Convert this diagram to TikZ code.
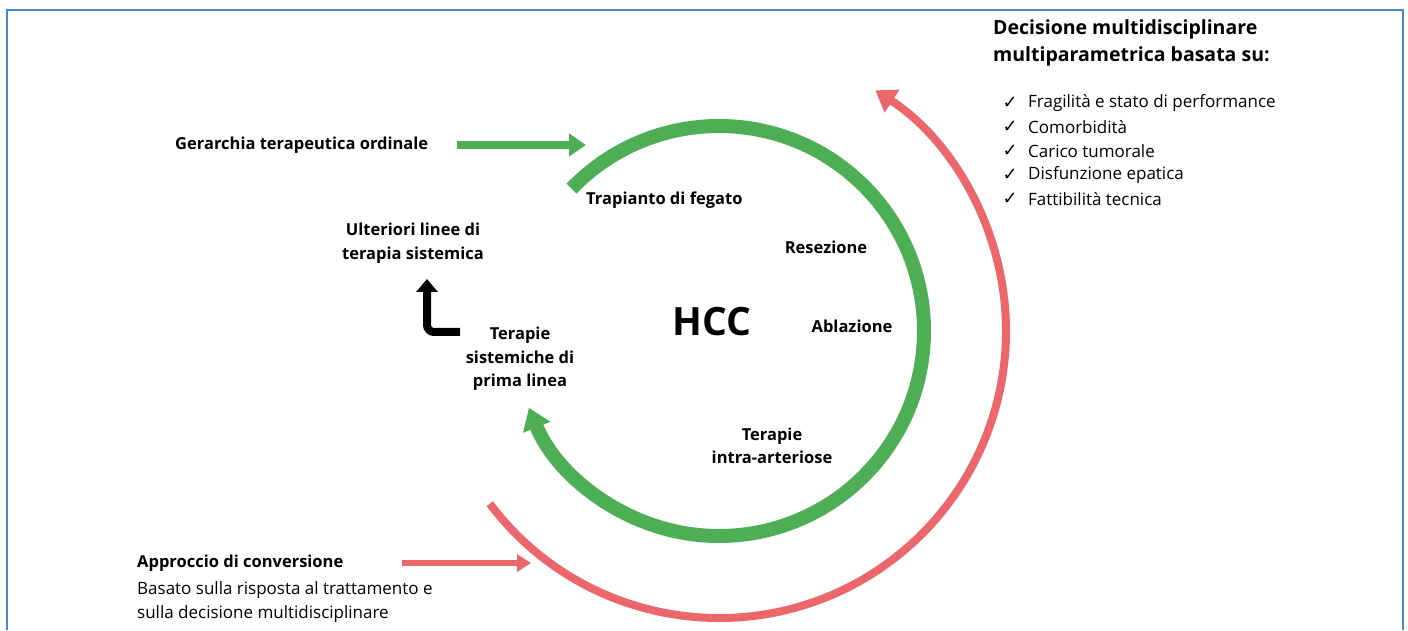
\documentclass[tikz,border=0pt]{standalone}
\usepackage{fontspec}
\setmainfont{Open Sans}
\newfontfamily\symfont{DejaVu Sans}
\usepackage{tikz}
\usepackage{xcolor}
\usetikzlibrary{arrows.meta,calc,positioning}
\definecolor{FrameBlue}{HTML}{4A86C8}
\definecolor{CycleGreen}{HTML}{4EAE55}
\definecolor{ConvRed}{HTML}{EB676C}
\newcommand{\chk}{{\symfont\char"2713}}

\begin{document}
\begin{tikzpicture}[
      x=1pt,y=1pt,
      font=\fontsize{16}{18}\selectfont,
      lbl/.style={font=\fontsize{16.5}{23.5}\selectfont\bfseries,align=center,inner sep=0pt},
      txt/.style={font=\fontsize{17}{24}\selectfont,anchor=west,align=left,inner sep=0pt},
      chkbox/.style={font=\fontsize{18}{18}\selectfont,inner sep=0pt},
      frame/.style={draw=FrameBlue,line width=2pt},
      garc/.style={draw=CycleGreen,line width=14pt,-{Triangle[length=21pt,width=28pt]}},
      rarc/.style={draw=ConvRed,line width=8pt,-{Triangle[length=20pt,width=26pt]}},
      garrow/.style={draw=CycleGreen,line width=8pt,-{Triangle[length=17pt,width=22pt]}},
      rarrow/.style={draw=ConvRed,line width=6pt,-{Triangle[length=14pt,width=17pt]}},
      karrow/.style={draw=black,line width=8pt,rounded corners=7pt,-{Triangle[length=13pt,width=21pt]}}
    ]
      \useasboundingbox (0,0) rectangle (1408,630);
      \draw[frame] (7,0) |- (1403,620) -- (1403,0);

      % centre of the two cycles
      \coordinate (hcc) at (719,299);
      \node[font=\fontsize{39}{44}\selectfont\bfseries,inner sep=0pt] (hcclbl) at (712,308) {HCC};

      % treatment cycle
      \coordinate (gstart) at ($(hcc)+(136:205)$);
      \draw[garc] (gstart) arc[start angle=136,end angle=-158,radius=205];
      \coordinate (rstart) at ($(hcc)+(217:287)$);
      \draw[rarc] (rstart) arc[start angle=217,end angle=417,radius=287];

      \node[lbl,anchor=west] (trap) at (586,430) {Trapianto di fegato};
      \node[lbl] (resez) at (826,383) {Resezione};
      \node[lbl] (ablaz) at (852,304) {Ablazione};
      \node[lbl] (intra) at (772,184) {Terapie\\intra-arteriose};
      \node[lbl] (prima) at (520,271) {Terapie\\sistemiche di\\prima linea};
      \node[lbl] (ulter) at (413,387) {Ulteriori linee di\\terapia sistemica};

      \coordinate (lstart) at (460,298);
      \coordinate (lend) at (427,351);
      \draw[karrow] (lstart) -| (lend);

      % ordinal hierarchy
      \node[lbl,anchor=west] (gerar) at (175,485) {Gerarchia terapeutica ordinale};
      \coordinate (gin) at (586,485);
      \draw[garrow] ([xshift=29pt]gerar.east) -- (gin);

      % conversion approach
      \node[lbl,anchor=west] (appr) at (137,67) {Approccio di conversione};
      \node[txt] (basato) at (137,28) {Basato sulla risposta al trattamento e\\sulla decisione multidisciplinare};
      \coordinate (rin) at (531,67);
      \draw[rarrow] ([xshift=58pt]appr.east) -- (rin);

      % decision criteria
      \node[font=\fontsize{19.5}{27}\selectfont\bfseries,anchor=west,align=left,inner sep=0pt] (decis) at (993,587) {Decisione multidisciplinare\\multiparametrica basata su:};
      \node[txt] (c1) at (1028,527) {Fragilità e stato di performance};
      \node[txt] (c2) at (1028,503) {Comorbidità};
      \node[txt] (c3) at (1028,479) {Carico tumorale};
      \node[txt] (c4) at (1028,455) {Disfunzione epatica};
      \node[txt] (c5) at (1028,431) {Fattibilità tecnica};
      \node[chkbox,left=10pt of c1.west] (k1) {\chk};
      \node[chkbox,left=10pt of c2.west] (k2) {\chk};
      \node[chkbox,left=10pt of c3.west] (k3) {\chk};
      \node[chkbox,left=10pt of c4.west] (k4) {\chk};
      \node[chkbox,left=10pt of c5.west] (k5) {\chk};
    \end{tikzpicture}
\end{document}
